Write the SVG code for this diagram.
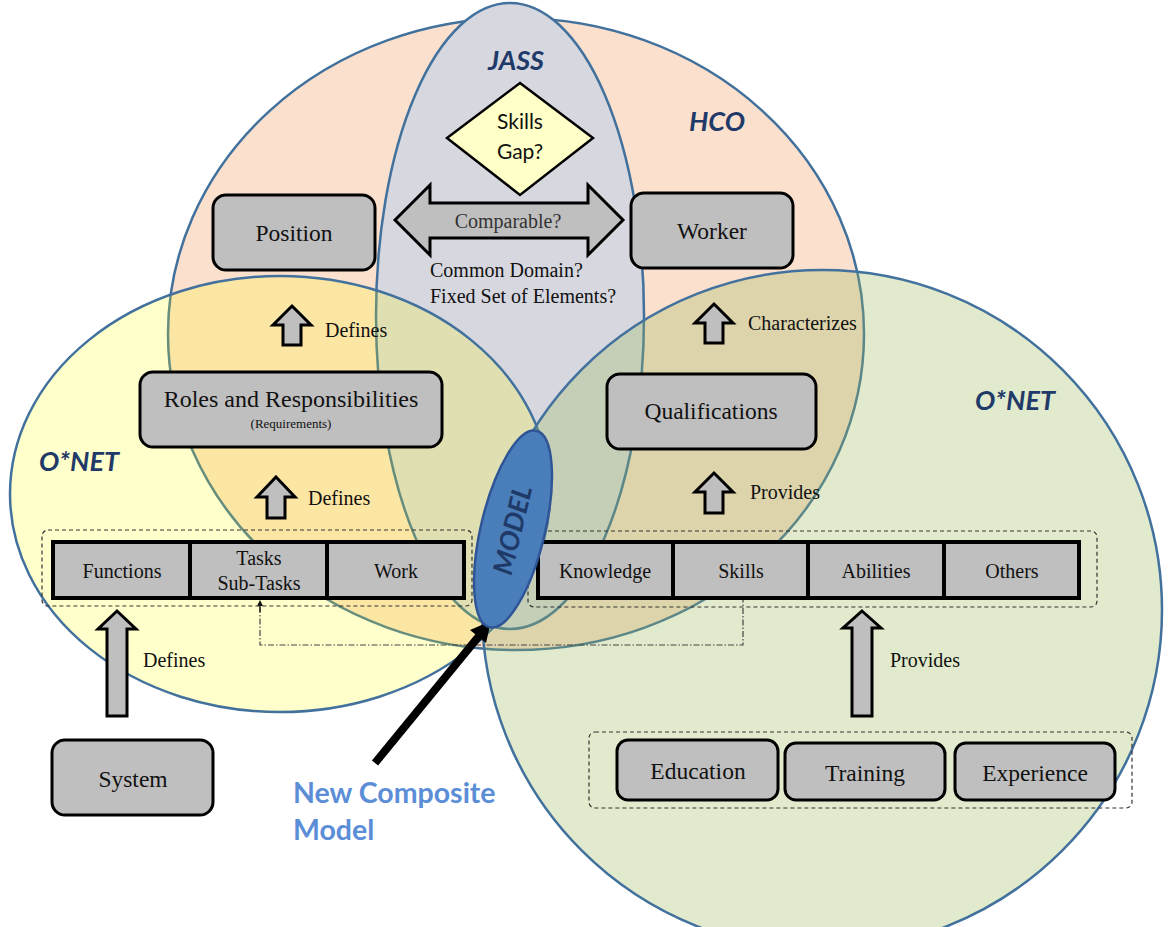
<svg xmlns="http://www.w3.org/2000/svg" width="1172" height="927" viewBox="0 0 1172 927">
<defs>
<style>
.ring{stroke:#41719C;stroke-width:2.5}
.box{fill:#BFBFBF;stroke:#000;stroke-width:3}
.cell{fill:#BFBFBF;stroke:#000;stroke-width:4}
.dash{fill:none;stroke:#333;stroke-width:1.2;stroke-dasharray:4 3}
.dashdot{fill:none;stroke:#444;stroke-width:1.2;stroke-dasharray:6 2 1.5 2}
.barrow{fill:#BFBFBF;stroke:#000;stroke-width:3;stroke-linejoin:miter}
text.t{font-family:'Liberation Serif','DejaVu Serif',serif;fill:#111;text-anchor:middle}
text.big{font-size:23.5px}
text.lbl{font-family:'Liberation Serif','DejaVu Serif',serif;fill:#111;font-size:20px}
text.title{font-family:Lato,'Open Sans',sans-serif;font-weight:bold;font-style:italic;fill:#1F3A68;font-size:27px;text-anchor:middle}
</style>
<marker id="tri" viewBox="0 0 10 10" refX="5" refY="5" markerWidth="5" markerHeight="5" orient="auto">
<path d="M0,0 L10,5 L0,10 z" fill="#111"/>
</marker>
</defs>
<rect width="1172" height="927" fill="#fff"/>

<g id="sets">
<ellipse id="hco" class="ring" cx="516" cy="334" rx="348" ry="316" fill="#F8CBAD" fill-opacity="0.6"/>
<ellipse id="jass" class="ring" cx="510" cy="316" rx="134" ry="313" fill="#D7D7DF"/>
<ellipse id="onet-left" class="ring" cx="280" cy="494" rx="270" ry="218" fill="#FFFF00" fill-opacity="0.2"/>
<circle id="onet-right" class="ring" cx="822" cy="610" r="340" fill="#9BBB59" fill-opacity="0.3"/>
</g>

<g id="titles">
<text class="title" x="516" y="70">JASS</text>
<text class="title" x="717" y="131">HCO</text>
<text class="title" x="79" y="471">O*NET</text>
<text class="title" x="1015" y="410">O*NET</text>
</g>

<g id="connectors">
<polyline class="dashdot" points="260,607 260,645 743,645 743,600"/>
<line x1="260" y1="612" x2="260" y2="603" stroke="#111" stroke-width="1.2" marker-end="url(#tri)"/>
<polygon class="barrow" points="292,306 311,325 301,325 301,345 283,345 283,325 273,325"/>
<polygon class="barrow" points="276,477 295,497 285,497 285,518 267,518 267,497 257,497"/>
<polygon class="barrow" points="117,611 136,629 127,629 127,716 107,716 107,629 98,629"/>
<polygon class="barrow" points="714,304 733,323 723,323 723,343 705,343 705,323 695,323"/>
<polygon class="barrow" points="714,473 733,492 723,492 723,513 705,513 705,492 695,492"/>
<polygon class="barrow" points="862,611 881,628 872,628 872,716 852,716 852,628 843,628"/>
<polygon class="barrow" points="395,220 430,185 430,203 588,203 588,185 623,220 588,255 588,238 430,238 430,255"/>
<line x1="375" y1="763" x2="479" y2="636" stroke="#000" stroke-width="8"/>
<polygon points="491,621 486,643 470,630" fill="#000"/>
</g>

<g id="connector-labels">
<text class="lbl" x="325" y="337">Defines</text>
<text class="lbl" x="308" y="505">Defines</text>
<text class="lbl" x="143" y="667">Defines</text>
<text class="lbl" x="748" y="330">Characterizes</text>
<text class="lbl" x="750" y="499">Provides</text>
<text class="lbl" x="890" y="667">Provides</text>
<text class="t" x="508" y="228" style="font-size:20px;fill:#333">Comparable?</text>
<text class="lbl" x="430" y="277">Common Domain?</text>
<text class="lbl" x="430" y="303">Fixed Set of Elements?</text>
</g>

<g id="skills-gap">
<polygon points="520,83 593,138 520,195 447,138" fill="#FFFFC8" stroke="#000" stroke-width="2.5"/>
<text x="520" y="129" font-family="Lato,'Open Sans',sans-serif" font-size="21" fill="#111" text-anchor="middle">Skills</text>
<text x="520" y="159" font-family="Lato,'Open Sans',sans-serif" font-size="21" fill="#111" text-anchor="middle">Gap?</text>
</g>

<g id="position">
<rect class="box" x="213" y="195" width="162" height="75" rx="13"/>
<text class="t big" x="294" y="241">Position</text>
</g>
<g id="worker">
<rect class="box" x="631" y="193" width="162" height="75" rx="13"/>
<text class="t big" x="712" y="239">Worker</text>
</g>
<g id="roles">
<rect class="box" x="140" y="372" width="302" height="75" rx="13"/>
<text class="t" x="291" y="407" font-size="24">Roles and Responsibilities</text>
<text class="t" x="291" y="428" font-size="13">(Requirements)</text>
</g>
<g id="qualifications">
<rect class="box" x="607" y="374" width="209" height="75" rx="13"/>
<text class="t big" x="711" y="419">Qualifications</text>
</g>

<g id="left-group">
<rect class="dash" x="42" y="530" width="430" height="76" rx="6"/>
<g id="functions">
<rect class="cell" x="53" y="542" width="137" height="56"/>
<text class="t" x="122" y="578" font-size="20">Functions</text>
</g>
<g id="tasks">
<rect class="cell" x="190" y="542" width="137" height="56"/>
<text class="t" x="259" y="565" font-size="20">Tasks</text>
<text class="t" x="259" y="590" font-size="20">Sub-Tasks</text>
</g>
<g id="work">
<rect class="cell" x="327" y="542" width="137" height="56"/>
<text class="t" x="396" y="578" font-size="20">Work</text>
</g>
</g>

<g id="right-group">
<rect class="dash" x="528" y="531" width="569" height="76" rx="6"/>
<g id="knowledge">
<rect class="cell" x="538" y="542" width="135" height="56"/>
<text class="t" x="605" y="578" font-size="20">Knowledge</text>
</g>
<g id="skills">
<rect class="cell" x="673" y="542" width="135" height="56"/>
<text class="t" x="741" y="578" font-size="20">Skills</text>
</g>
<g id="abilities">
<rect class="cell" x="808" y="542" width="136" height="56"/>
<text class="t" x="876" y="578" font-size="20">Abilities</text>
</g>
<g id="others">
<rect class="cell" x="944" y="542" width="135" height="56"/>
<text class="t" x="1012" y="578" font-size="20">Others</text>
</g>
</g>

<g id="model">
<ellipse cx="513" cy="529" rx="32" ry="101" transform="rotate(13.4 513 529)" fill="#4A7EBB" stroke="#2F5597" stroke-width="2.5"/>
<text x="0" y="0" transform="translate(513 530) rotate(-76.6)" dy="9" font-family="Lato,'Open Sans',sans-serif" font-weight="bold" font-style="italic" font-size="27" fill="#1F3A68" text-anchor="middle">MODEL</text>
</g>

<g id="system">
<rect class="box" x="52" y="740" width="161" height="75" rx="13"/>
<text class="t big" x="133" y="787">System</text>
</g>

<g id="source-group">
<rect class="dash" x="589" y="732" width="543" height="76" rx="6"/>
<g id="education">
<rect class="box" x="617" y="740" width="161" height="60" rx="11"/>
<text class="t big" x="698" y="779">Education</text>
</g>
<g id="training">
<rect class="box" x="785" y="743" width="160" height="57" rx="11"/>
<text class="t big" x="865" y="781">Training</text>
</g>
<g id="experience">
<rect class="box" x="955" y="743" width="160" height="57" rx="11"/>
<text class="t big" x="1035" y="781">Experience</text>
</g>
</g>

<g id="new-model-label">
<text x="293" y="803" font-family="Lato,'Open Sans',sans-serif" font-weight="bold" font-size="28.5" fill="#5B8ED6">New Composite</text>
<text x="293" y="840" font-family="Lato,'Open Sans',sans-serif" font-weight="bold" font-size="28.5" fill="#5B8ED6">Model</text>
</g>
</svg>
